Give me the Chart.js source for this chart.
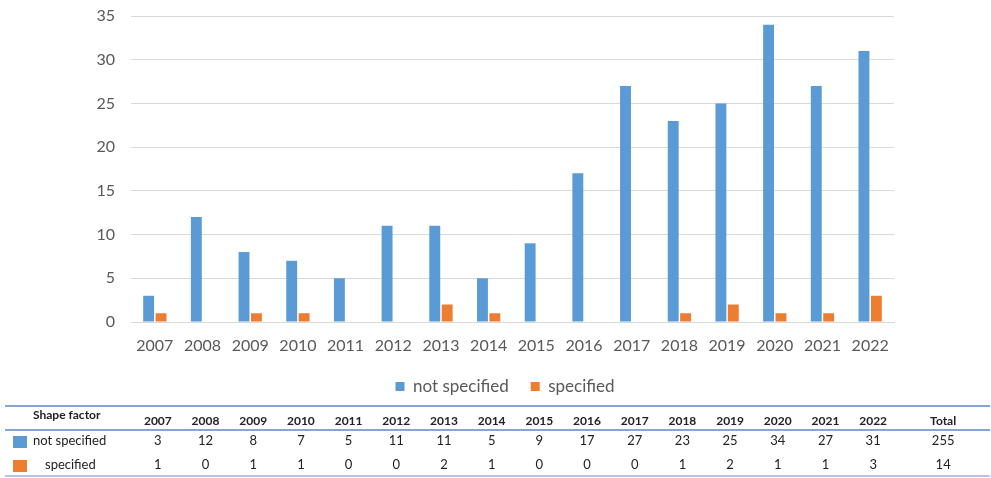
<!DOCTYPE html>
<html>
<head>
<meta charset="utf-8">
<script src="https://cdn.jsdelivr.net/npm/chart.js@4.4.1/dist/chart.umd.min.js"></script>
<style>
  html, body { margin: 0; padding: 0; background: #fff; }
  #wrap { width: 991px; height: 478px; }
</style>
</head>
<body>
<div id="wrap"><canvas id="chartShape" width="991" height="478"></canvas></div>
<script>
// Dados
const anos = ['2007', '2008', '2009', '2010', '2011', '2012', '2013', '2014',
  '2015', '2016', '2017', '2018', '2019', '2020', '2021', '2022'];
const naoEspecificado = [3, 12, 8, 7, 5, 11, 11, 5, 9, 17, 27, 23, 25, 34, 27, 31];
const especificado = [1, 0, 1, 1, 0, 0, 2, 1, 0, 0, 0, 1, 2, 1, 1, 3];
const rotulos = ['not specified', 'specified'];
const tituloTabela = 'Shape factor';
const rotuloTotal = 'Total';

const AZUL = '#5B9BD5';
const LARANJA = '#ED7D31';
const FONTE = 'Lato, "Liberation Sans", sans-serif';

const soma = arr => arr.reduce((a, b) => a + b, 0);

// Centraliza a legenda na largura da página, não só na área do gráfico
const legendaCentro = {
  id: 'legendaCentro',
  afterLayout(chart) {
    const l = chart.legend;
    if (!l) return;
    l.left += 58;
    l.right += 58;
  }
};

// Tabela de dados abaixo do gráfico
const tabelaPlugin = {
  id: 'tabelaDados',
  afterDraw(chart) {
    const { ctx } = chart;
    const x = chart.scales.x;
    const linhaCor = '#86a4d8';
    ctx.save();

    // linhas horizontais
    ctx.lineWidth = 2;
    [[406, linhaCor], [430, linhaCor], [476, '#b4c6e7']].forEach(([y, cor]) => {
      ctx.strokeStyle = cor;
      ctx.beginPath();
      ctx.moveTo(5, y);
      ctx.lineTo(990, y);
      ctx.stroke();
    });

    ctx.fillStyle = '#222';
    ctx.textBaseline = 'middle';

    // cabeçalho
    ctx.font = 'bold 12px ' + FONTE;
    ctx.textAlign = 'left';
    ctx.fillText(tituloTabela, 33, 415);
    ctx.textAlign = 'center';
    anos.forEach((ano, i) => {
      ctx.fillText(ano, x.getPixelForValue(i) + 3, 421);
    });
    const xTotal = x.getPixelForValue(anos.length - 1) + 73;
    ctx.fillText(rotuloTotal, xTotal, 421);

    // linhas de valores
    const series = [
      { nome: rotulos[0], dados: naoEspecificado, cor: AZUL, y: 441, xNome: 33 },
      { nome: rotulos[1], dados: especificado, cor: LARANJA, y: 465, xNome: 45 }
    ];
    series.forEach(s => {
      ctx.fillStyle = s.cor;
      ctx.fillRect(13, s.y - 5, 14, 12);
      ctx.fillStyle = '#222';
      ctx.font = '13px ' + FONTE;
      ctx.textAlign = 'left';
      ctx.fillText(s.nome, s.xNome, s.y);
      ctx.textAlign = 'center';
      s.dados.forEach((v, i) => {
        ctx.fillText(String(v), x.getPixelForValue(i) + 3, s.y);
      });
      ctx.fillText(String(soma(s.dados)), xTotal, s.y);
    });

    ctx.restore();
  }
};

const ctx = document.getElementById('chartShape').getContext('2d');
new Chart(ctx, {
  type: 'bar',
  data: {
    labels: anos,
    datasets: [
      {
        label: rotulos[0],
        data: naoEspecificado,
        backgroundColor: AZUL,
        categoryPercentage: 0.52,
        barPercentage: 0.88
      },
      {
        label: rotulos[1],
        data: especificado,
        backgroundColor: LARANJA,
        categoryPercentage: 0.52,
        barPercentage: 0.88
      }
    ]
  },
  options: {
    responsive: false,
    animation: false,
    layout: { padding: { top: 16, right: 97, bottom: 73, left: 0 } },
    plugins: {
      legend: {
        position: 'bottom',
        labels: {
          color: '#595959',
          font: { family: FONTE, size: 17 },
          boxWidth: 9,
          boxHeight: 9,
          padding: 22
        }
      },
      tooltip: { enabled: false }
    },
    scales: {
      y: {
        min: 0,
        max: 35,
        ticks: {
          stepSize: 5,
          color: '#595959',
          font: { family: FONTE, size: 16 },
          padding: 16
        },
        grid: { color: '#d9d9d9', lineWidth: 1, drawTicks: false },
        border: { display: false },
        afterFit(scale) {
          scale.width = 131;
          scale.paddingTop = 0;
          scale.paddingBottom = 0;
        }
      },
      x: {
        ticks: {
          color: '#595959',
          font: { family: FONTE, size: 16 },
          padding: 14,
          maxRotation: 0
        },
        grid: { display: false, drawTicks: false },
        border: { color: '#d9d9d9', width: 1 },
        afterFit(scale) { scale.height = 34; }
      }
    }
  },
  plugins: [legendaCentro, tabelaPlugin]
});
</script>
</body>
</html>
